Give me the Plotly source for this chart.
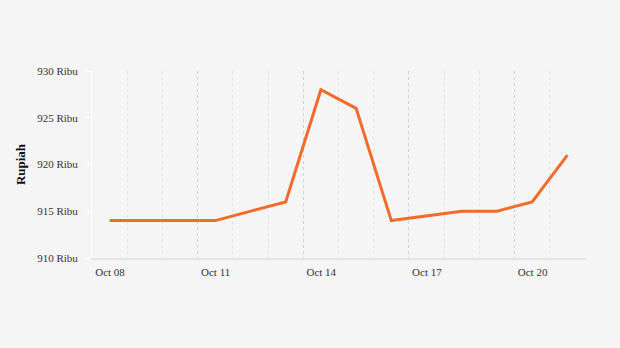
import plotly.graph_objects as go

dates = ["2019-10-08 12:00", "2019-10-09 12:00", "2019-10-10 12:00", "2019-10-11 12:00",
         "2019-10-13 12:00", "2019-10-14 12:00", "2019-10-15 12:00", "2019-10-16 12:00",
         "2019-10-18 12:00", "2019-10-19 12:00", "2019-10-20 12:00", "2019-10-21 12:00"]
prices = [914, 914, 914, 914, 916, 928, 926, 914, 915, 915, 916, 921]

tick_dates = ["2019-10-08", "2019-10-11", "2019-10-14", "2019-10-17", "2019-10-20"]
tick_text = ["Oct 08", "Oct 11", "Oct 14", "Oct 17", "Oct 20"]
y_ticks = [910, 915, 920, 925, 930]
y_text = [f"{v} Ribu" for v in y_ticks]

fig = go.Figure()
fig.add_trace(go.Scatter(x=dates, y=prices, mode="lines",
                         line=dict(color="#f26b2a", width=3), hoverinfo="x+y"))

fig.update_layout(
    width=620, height=348,
    margin=dict(l=92, r=35, t=71, b=90),
    paper_bgcolor="#f5f5f5", plot_bgcolor="#f5f5f5",
    showlegend=False,
    font=dict(family="Liberation Serif, Times New Roman, serif", size=11, color="#333333"),
    xaxis=dict(
        type="date",
        range=["2019-10-08", "2019-10-22"],
        tickvals=tick_dates, ticktext=tick_text,
        ticklabelshift=18, ticklabelstandoff=3,
        showgrid=True, gridcolor="#d2d2d2", griddash="dot", gridwidth=1,
        minor=dict(dtick=86400000, tick0="2019-10-08", showgrid=True,
                   gridcolor="#e2e2e2", griddash="dot", gridwidth=1),
        showline=True, linecolor="#e4e4e4", linewidth=2,
        ticks="", zeroline=False,
        tickfont=dict(size=11, color="#333333"),
    ),
    yaxis=dict(
        range=[910, 930],
        tickvals=y_ticks, ticktext=y_text,
        showgrid=False, zeroline=False,
        showline=True, linecolor="#ffffff", linewidth=1,
        ticks="outside", ticklen=5, tickcolor="#ffffff",
        ticklabelstandoff=6,
        tickfont=dict(size=11, color="#333333"),
        title=dict(text="<b>Rupiah</b>", font=dict(size=13, color="#111111"), standoff=8),
    ),
)

fig.write_html("out.html")
